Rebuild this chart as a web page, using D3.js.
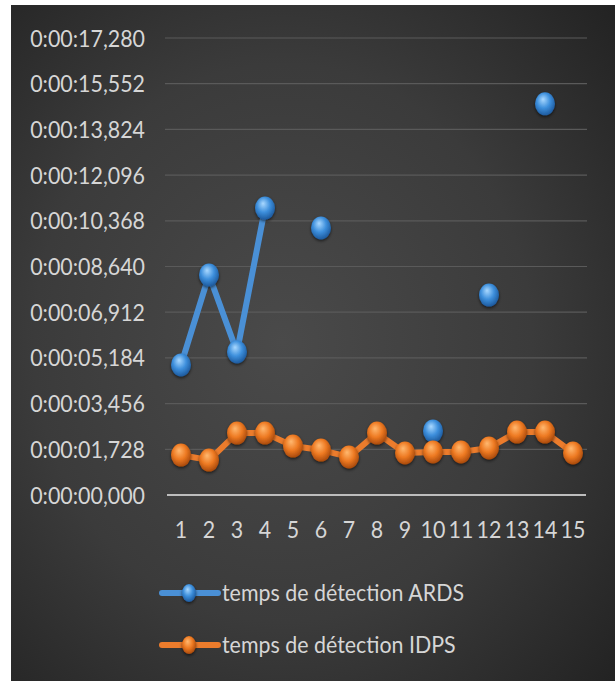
<!DOCTYPE html>
<html><head><meta charset="utf-8">
<script src="https://cdn.jsdelivr.net/npm/d3@7"></script>
<style>html,body{margin:0;padding:0;background:#fff;}svg{display:block;}</style>
</head><body>
<script>
const categories = ["1","2","3","4","5","6","7","8","9","10","11","12","13","14","15"];
// seconds
const ardsValues = [4.92, 8.32, 5.41, 10.85, null, 10.10, null, null, null, 2.42, null, 7.56, null, 14.79, null];
const idpsValues = [1.51, 1.32, 2.34, 2.34, 1.85, 1.70, 1.44, 2.34, 1.59, 1.63, 1.63, 1.78, 2.38, 2.38, 1.59];
const tickValues = [0, 1.728, 3.456, 5.184, 6.912, 8.640, 10.368, 12.096, 13.824, 15.552, 17.280];
const tickLabels = ["0:00:00,000","0:00:01,728","0:00:03,456","0:00:05,184","0:00:06,912","0:00:08,640","0:00:10,368","0:00:12,096","0:00:13,824","0:00:15,552","0:00:17,280"];
const seriesNames = ["temps de détection ARDS","temps de détection IDPS"];

const W = 615, H = 681;
const FONT = "Lato, 'Open Sans', sans-serif";
const svg = d3.select("body").append("svg").attr("width", W).attr("height", H);
const defs = svg.append("defs");

const bg = defs.append("radialGradient").attr("id","bg").attr("cx","0.45").attr("cy","0.5").attr("r","0.75");
bg.append("stop").attr("offset","0").attr("stop-color","#4a4a4a");
bg.append("stop").attr("offset","0.55").attr("stop-color","#3b3b3b");
bg.append("stop").attr("offset","1").attr("stop-color","#222222");

function ball(id, hi, mid, dark){
  const g = defs.append("radialGradient").attr("id",id).attr("cx","0.45").attr("cy","0.4").attr("r","0.6").attr("fx","0.4").attr("fy","0.3");
  g.append("stop").attr("offset","0").attr("stop-color",hi);
  g.append("stop").attr("offset","0.55").attr("stop-color",mid);
  g.append("stop").attr("offset","1").attr("stop-color",dark);
}
ball("gBlue","#a9d8ff","#3d8fdc","#1d5a9e");
ball("gOrange","#ffb870","#ee7a22","#a94a0c");

const sh = defs.append("filter").attr("id","sh").attr("x","-50%").attr("y","-50%").attr("width","200%").attr("height","200%");
sh.append("feDropShadow").attr("dx",0).attr("dy",1.5).attr("stdDeviation",1.5).attr("flood-color","#000").attr("flood-opacity",0.6);

svg.append("rect").attr("x",11).attr("y",5).attr("width",W-11).attr("height",H-5).attr("fill","url(#bg)");

const x = d3.scaleBand().domain(categories).range([167, 587]);
const y = d3.scaleLinear().domain([0, 17.28]).range([495, 38]);

function condense(sel){
  sel.each(function(){
    const w = this.getComputedTextLength();
    d3.select(this).attr("textLength", w*0.93).attr("lengthAdjust","spacingAndGlyphs");
  });
}

// gridlines
svg.append("g").selectAll("line").data(tickValues.slice(1)).join("line")
  .attr("x1",165).attr("x2",587).attr("y1",d=>y(d)).attr("y2",d=>y(d))
  .attr("stroke","#5a5a5a").attr("stroke-width",1.2);

// y axis labels
const yAxis = d3.axisLeft(y).tickValues(tickValues).tickFormat((d,i)=>tickLabels[i]).tickSize(0).tickPadding(0);
const yg = svg.append("g").attr("transform","translate(145,0)").call(yAxis);
yg.select(".domain").remove();
yg.selectAll("text").attr("fill","#d6d6d6").attr("font-family",FONT).attr("font-size",23).attr("dy","0.35em").call(condense);

// x axis line
svg.append("line").attr("x1",167).attr("x2",586).attr("y1",y(0)).attr("y2",y(0)).attr("stroke","#bdbdbd").attr("stroke-width",2);

const xAxis = d3.axisBottom(x).tickSize(0).tickPadding(0);
const xg = svg.append("g").attr("transform",`translate(0,${y(0)+35})`).call(xAxis);
xg.select(".domain").remove();
xg.selectAll("text").attr("fill","#d6d6d6").attr("font-family",FONT).attr("font-size",23).attr("dy","0.35em").call(condense);

const cx = i => x(categories[i]) + x.bandwidth()/2;
const line = d3.line().defined(d => d != null).x((d,i)=>cx(i)).y(d=>y(d));

function drawSeries(vals, color, grad){
  svg.append("path").datum(vals).attr("d", line).attr("fill","none")
    .attr("stroke",color).attr("stroke-width",6).attr("stroke-linejoin","round").attr("stroke-linecap","round");
  svg.append("g").selectAll("ellipse").data(vals.map((v,i)=>({v,i})).filter(d=>d.v!=null)).join("ellipse")
    .attr("cx",d=>cx(d.i)).attr("cy",d=>y(d.v)).attr("rx",10).attr("ry",11.5)
    .attr("fill",`url(#${grad})`).attr("filter","url(#sh)");
}
drawSeries(ardsValues, "#4a90d6", "gBlue");
drawSeries(idpsValues, "#ec7c2c", "gOrange");

// legend
const legend = [{name:seriesNames[0], color:"#4a90d6", grad:"gBlue", y:593},{name:seriesNames[1], color:"#ec7c2c", grad:"gOrange", y:645}];
const lg = svg.append("g").selectAll("g").data(legend).join("g");
lg.append("line").attr("x1",162).attr("x2",218).attr("y1",d=>d.y).attr("y2",d=>d.y).attr("stroke",d=>d.color).attr("stroke-width",6).attr("stroke-linecap","round");
lg.append("ellipse").attr("cx",189).attr("cy",d=>d.y).attr("rx",7).attr("ry",9).attr("fill",d=>`url(#${d.grad})`).attr("filter","url(#sh)");
lg.append("text").attr("x",222).attr("y",d=>d.y).attr("dy","0.35em").text(d=>d.name)
  .attr("fill","#d6d6d6").attr("font-family",FONT).attr("font-size",23).call(condense);
</script>
</body></html>
